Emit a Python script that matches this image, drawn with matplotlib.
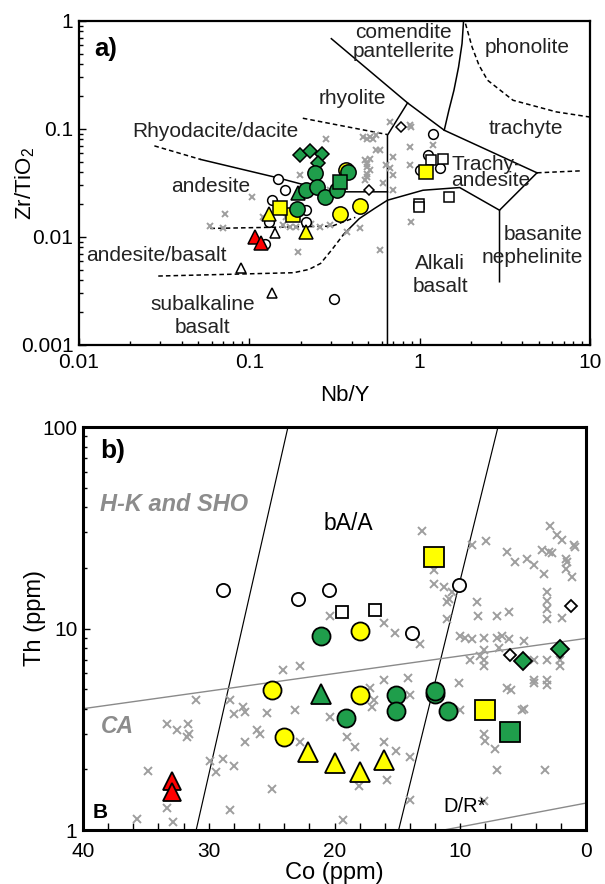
import numpy as np
import matplotlib
matplotlib.use('Agg')
import matplotlib.pyplot as plt
from matplotlib.ticker import FuncFormatter, MultipleLocator, NullFormatter

plt.rcParams['font.family'] = ['Liberation Sans', 'DejaVu Sans']
plt.rcParams['mathtext.fontset'] = 'custom'
plt.rcParams['mathtext.rm'] = 'Liberation Sans'
plt.rcParams['mathtext.it'] = 'Liberation Sans:italic'
plt.rcParams['mathtext.bf'] = 'Liberation Sans:bold'

GREEN = '#1f9e4b'
YELLOW = '#ffff00'
RED = '#ff0000'
GREY = '#9e9e9e'

# ---------------- panel a) Zr/TiO2 vs Nb/Y ----------------
a_gray_x = [0.283, 0.103, 0.0717, 0.0585, 0.0702, 0.1935, 0.583, 0.444, 0.372, 0.297,
            0.259, 0.1725, 0.165, 0.120, 0.158, 0.1885, 0.231, 0.198, 0.297, 0.509,
            0.493, 0.509, 0.493, 0.556, 0.509, 0.468, 0.556, 0.611, 0.668, 0.876,
            0.894, 0.533, 0.488, 0.583, 0.876, 0.696, 0.475, 0.488, 0.488, 0.475,
            0.637, 0.668, 0.696, 0.876, 1.198, 0.696, 0.894]
a_gray_y = [0.0815, 0.0235, 0.0165, 0.0126, 0.0120, 0.0073, 0.00756, 0.0120, 0.0112, 0.0129,
            0.0124, 0.0124, 0.0154, 0.0154, 0.0129, 0.0124, 0.0133, 0.0374, 0.0271, 0.0533,
            0.0479, 0.0416, 0.0361, 0.0636, 0.0845, 0.0845, 0.0876, 0.0313, 0.116, 0.109,
            0.105, 0.0815, 0.0815, 0.0636, 0.0683, 0.0552, 0.0514, 0.0446, 0.0387, 0.0336,
            0.0462, 0.0431, 0.0374, 0.0462, 0.0708, 0.0271, 0.0138]

a_open_circle_x = [0.147, 0.161, 0.135, 0.131, 0.216, 0.216, 0.123, 0.315, 1.198, 1.119, 0.998, 1.309]
a_open_circle_y = [0.0348, 0.0271, 0.0219, 0.0138, 0.0177, 0.0138, 0.0087, 0.00266, 0.0908, 0.0572, 0.0416, 0.0431]
a_open_tri_x = [0.141, 0.0888, 0.135]
a_open_tri_y = [0.0108, 0.00512, 0.0030]
a_open_diam_x = [0.772, 0.503]
a_open_diam_y = [0.1046, 0.0271]
a_open_sq_x = [1.173, 1.372, 0.993, 0.997, 1.484]
a_open_sq_y = [0.0514, 0.0525, 0.0204, 0.0188, 0.0235]

a_yel_circle_x = [0.368, 0.342, 0.449]
a_yel_circle_y = [0.0416, 0.0165, 0.0193]
a_yel_sq_x = [0.180, 0.1505, 1.085]
a_yel_sq_y = [0.0159, 0.0184, 0.0401]
a_yel_tri_x = [0.131, 0.216]
a_yel_tri_y = [0.0165, 0.0112]

a_grn_diam_x = [0.198, 0.228, 0.266, 0.253]
a_grn_diam_y = [0.0572, 0.0627, 0.0584, 0.0489]
a_grn_circle_x = [0.242, 0.215, 0.249, 0.279, 0.326, 0.382, 0.190]
a_grn_circle_y = [0.0393, 0.0275, 0.0291, 0.0235, 0.0275, 0.0398, 0.0181]
a_grn_tri_x = [0.1925]
a_grn_tri_y = [0.0253]
a_grn_sq_x = [0.342]
a_grn_sq_y = [0.0322]

a_red_tri_x = [0.1077, 0.1178]
a_red_tri_y = [0.01005, 0.00884]

# field boundaries (Winchester & Floyd)
a_solid_lines = [
    ([0.303, 0.849, 1.394, 4.885], [0.686, 0.1744, 0.0974, 0.0393]),
    ([1.810, 1.773, 1.692, 1.589, 1.484, 1.394], [1.0, 0.617, 0.375, 0.228, 0.149, 0.0974]),
    ([0.849, 0.647, 0.647], [0.1744, 0.0876, 0.001]),
    ([4.885, 2.943, 2.943], [0.0393, 0.0177, 0.00385]),
    ([0.358, 0.442, 0.544, 0.647, 1.046, 1.718, 2.943], [0.0106, 0.0148, 0.0184, 0.0219, 0.0271, 0.0287, 0.0177]),
    ([0.0519, 0.147, 0.224, 0.306, 0.647], [0.0522, 0.0353, 0.0296, 0.0262, 0.0262]),
]
a_dashed_lines = [
    ([0.0292, 0.182, 0.224, 0.262, 0.306, 0.358], [0.00435, 0.00467, 0.00501, 0.00569, 0.00767, 0.0106]),
    ([0.0277, 0.0519], [0.0698, 0.0522]),
    ([0.0591, 0.306, 0.419], [0.0120, 0.0126, 0.0152]),
    ([0.206, 0.647], [0.1258, 0.0888]),
    ([1.858, 2.031, 2.231, 2.503, 3.533, 6.345, 10.0], [0.945, 0.574, 0.389, 0.283, 0.1845, 0.144, 0.129]),
    ([4.885, 8.91], [0.0393, 0.0410]),
]
a_labels = [
    ("comendite\npantellerite", 0.805, 0.64, 'center', 1.0),
    ("phonolite", 4.29, 0.574, 'center', 1.2),
    ("rhyolite", 0.402, 0.191, 'center', 1.2),
    ("trachyte", 4.18, 0.101, 'center', 1.2),
    ("Rhyodacite/dacite", 0.0632, 0.094, 'center', 1.2),
    ("Trachy-\nandesite", 1.53, 0.0395, 'left', 0.8),
    ("andesite", 0.0591, 0.0291, 'center', 1.2),
    ("basanite\nnephelinite", 9.05, 0.0083, 'right', 1.25),
    ("andesite/basalt", 0.0284, 0.0068, 'center', 1.2),
    ("Alkali\nbasalt", 1.323, 0.00444, 'center', 1.25),
    ("subalkaline\nbasalt", 0.0532, 0.00185, 'center', 1.25),
]

# ---------------- panel b) Th vs Co ----------------
b_gray_co = [31.02, 33.35, 32.49, 31.63, 31.54, 31.69, 34.8, 33.29, 32.86, 35.72,
             28.31, 28.0, 27.26, 27.11, 25.38, 26.18, 25.91, 27.11, 29.91, 28.83,
             28.03, 29.42, 24.98, 28.31, 24.06, 22.74, 23.14, 22.74, 20.34, 19.02,
             18.37, 19.29, 18.09, 17.17, 16.89, 17.05, 16.09, 20.34, 16.09, 16.09, 15.85,
             13.05, 9.08, 7.94, 12.12, 12.12, 11.32, 10.92, 11.08, 11.08, 10.68,
             15.17, 13.2, 10.0, 9.6, 9.08, 8.15, 8.15, 8.4, 8.15, 7.08,
             6.68, 6.95, 6.15, 4.95, 8.68, 8.55, 7.08, 6.15, 9.2, 8.15,
             6.28, 5.63, 4.71, 4.15, 3.35, 2.83, 2.31, 1.91, 0.98, 0.86,
             3.51, 2.98, 2.71, 1.63, 1.51, 1.63, 1.11, 3.11, 3.11, 3.11,
             3.11, 1.91, 4.15, 3.11, 2.03, 2.03, 4.15, 4.15, 3.11, 3.11,
             10.12, 6.28, 5.11, 8.15, 8.0, 7.23, 14.12, 13.97, 10.0,
             7.08, 3.23, 8.15, 14.0, 4.92, 6.0, 15.08, 14.0]
b_gray_th = [4.44, 3.34, 3.14, 3.37, 3.00, 2.89, 1.96, 1.29, 1.10, 1.14,
             4.41, 3.78, 4.08, 3.86, 3.81, 3.12, 3.00, 2.72, 2.20, 2.25,
             2.08, 1.93, 1.59, 1.26, 6.24, 6.48, 3.93, 2.72, 3.64, 2.89,
             2.57, 1.12, 1.65, 5.05, 4.41, 4.08, 5.56, 11.56, 10.70, 2.72, 1.78,
             30.5, 25.96, 27.2, 19.44, 16.67, 16.03, 14.01, 13.48, 11.12, 15.13,
             9.53, 8.33, 9.17, 8.99, 8.82, 8.99, 7.86, 7.28, 7.00, 8.99,
             9.17, 8.01, 8.82, 8.65, 13.48, 11.56, 11.56, 12.01, 7.00, 6.48,
             24.03, 21.4, 22.25, 20.6, 18.7, 32.1, 29.1, 27.5, 25.96, 25.5,
             24.5, 24.0, 23.6, 22.25, 21.4, 19.8, 18.0, 15.13, 13.74, 12.48,
             11.12, 11.33, 7.00, 7.00, 7.00, 6.48, 5.56, 5.35, 5.56, 5.25,
             5.35, 5.05, 3.93, 3.00, 2.78, 2.52, 5.66, 4.67, 3.93,
             1.98, 1.98, 1.39, 1.41, 4.00, 4.95, 2.47, 2.29]

b_open_circle_co = [28.9, 22.9, 20.4, 13.85, 10.1]
b_open_circle_th = [15.6, 14.0, 15.6, 9.53, 16.5]
b_open_sq_co = [19.4, 16.8]
b_open_sq_th = [12.1, 12.4]
b_open_diam_co = [1.23, 6.06]
b_open_diam_th = [12.9, 7.42]

b_grn_circle_co = [21.1, 19.1, 15.1, 15.1, 12.0, 12.0, 11.0]
b_grn_circle_th = [9.17, 3.61, 4.67, 3.90, 4.73, 4.91, 3.90]
b_grn_tri_co = [21.1]
b_grn_tri_th = [4.73]
b_grn_diam_co = [5.02, 2.06]
b_grn_diam_th = [6.87, 7.92]
b_grn_sq_co = [6.06]
b_grn_sq_th = [3.06]

b_yel_circle_co = [18.0, 25.0, 18.0, 24.0]
b_yel_circle_th = [9.71, 4.95, 4.67, 2.89]
b_yel_tri_co = [22.1, 20.0, 18.0, 16.1]
b_yel_tri_th = [2.43, 2.14, 1.95, 2.22]
b_yel_sq_co = [12.1, 8.0]
b_yel_sq_th = [22.7, 3.96]

b_red_tri_co = [32.9, 32.9]
b_red_tri_th = [1.75, 1.55]

b_black_lines = [([23.7, 31.0], [100, 1]), ([7.0, 14.9], [100, 1])]
b_gray_lines = [([40, 0], [4.0, 8.93]), ([11.3, 0], [1.0, 1.36])]


def pts(ax, x, y, marker, face, size, z=4, lw=1.1):
    ax.plot(x, y, ls='none', marker=marker, ms=size, mfc=face, mec='k',
            mew=lw, zorder=z)


def style_axis(ax, spine_w, pad):
    for s in ax.spines.values():
        s.set_linewidth(spine_w)
    ax.tick_params(which='both', direction='in', top=False, right=False,
                   labelsize=15, width=1.0, pad=pad)
    ax.tick_params(which='major', length=5)
    ax.tick_params(which='minor', length=3)


fig = plt.figure(figsize=(6.05, 8.84), dpi=100)

# ---- a ----
ax = fig.add_axes([79 / 605, 1 - 345 / 884, 511 / 605, 324 / 884])
ax.set_xscale('log')
ax.set_yscale('log')
ax.set_xlim(0.01, 10)
ax.set_ylim(0.001, 1)

for xs, ys in a_solid_lines:
    ax.plot(xs, ys, color='k', lw=1.1, zorder=1)
for xs, ys in a_dashed_lines:
    ax.plot(xs, ys, color='k', lw=1.1, ls=(0, (3, 2)), zorder=1)

ax.plot(a_gray_x, a_gray_y, ls='none', marker='x', ms=5, mew=1.4, color=GREY, zorder=2)
pts(ax, a_open_circle_x, a_open_circle_y, 'o', 'white', 7)
pts(ax, a_open_tri_x, a_open_tri_y, '^', 'white', 7)
pts(ax, a_open_diam_x, a_open_diam_y, 'D', 'white', 5)
pts(ax, a_open_sq_x, a_open_sq_y, 's', 'white', 7)
pts(ax, a_yel_circle_x, a_yel_circle_y, 'o', YELLOW, 11, z=5)
pts(ax, a_yel_sq_x, a_yel_sq_y, 's', YELLOW, 10.5, z=5)
pts(ax, a_yel_tri_x, a_yel_tri_y, '^', YELLOW, 10.5, z=5)
pts(ax, a_grn_diam_x, a_grn_diam_y, 'D', GREEN, 7.3, z=6)
pts(ax, a_grn_tri_x, a_grn_tri_y, '^', GREEN, 10.5, z=6)
pts(ax, a_grn_circle_x, a_grn_circle_y, 'o', GREEN, 11, z=6)
pts(ax, a_grn_sq_x, a_grn_sq_y, 's', GREEN, 10.5, z=6)
pts(ax, a_red_tri_x, a_red_tri_y, '^', RED, 10.5, z=7)

for txt, x, y, ha, lsp in a_labels:
    ax.text(x, y, txt, ha=ha, va='center', fontsize=15, color='#222222',
            linespacing=lsp, zorder=3)
ax.text(0.03, 0.915, 'a)', transform=ax.transAxes, fontsize=18.5,
        fontweight='bold', va='center', ha='left')

fmt = FuncFormatter(lambda v, p: f'{v:g}')
ax.xaxis.set_major_formatter(fmt)
ax.yaxis.set_major_formatter(fmt)
ax.xaxis.set_minor_formatter(NullFormatter())
ax.yaxis.set_minor_formatter(NullFormatter())
style_axis(ax, 1.6, 4)
ax.tick_params(axis='x', pad=6)
ax.set_xlabel('Nb/Y', fontsize=16)
ax.set_ylabel('Zr/TiO$_2$', fontsize=16)
ax.xaxis.set_label_coords(0.52, -0.122)
ax.yaxis.set_label_coords(-0.082, 0.5)

# ---- b ----
bx = fig.add_axes([83 / 605, 1 - 830 / 884, 503 / 605, 403 / 884])
bx.set_yscale('log')
bx.set_xlim(40, 0)
bx.set_ylim(1, 100)

for xs, ys in b_black_lines:
    bx.plot(xs, ys, color='k', lw=0.85, zorder=1)
for xs, ys in b_gray_lines:
    bx.plot(xs, ys, color='#8a8a8a', lw=1.0, zorder=1)

bx.plot(b_gray_co, b_gray_th, ls='none', marker='x', ms=6, mew=1.4, color=GREY, zorder=2)
pts(bx, b_open_circle_co, b_open_circle_th, 'o', 'white', 9.5, lw=1.3)
pts(bx, b_open_sq_co, b_open_sq_th, 's', 'white', 9, lw=1.3)
pts(bx, b_open_diam_co, b_open_diam_th, 'D', 'white', 6.5, lw=1.3)
pts(bx, b_grn_circle_co, b_grn_circle_th, 'o', GREEN, 13, z=5, lw=1.3)
pts(bx, b_grn_tri_co, b_grn_tri_th, '^', GREEN, 14, z=5, lw=1.3)
pts(bx, b_grn_diam_co, b_grn_diam_th, 'D', GREEN, 9.3, z=5, lw=1.3)
pts(bx, b_grn_sq_co, b_grn_sq_th, 's', GREEN, 14, z=5, lw=1.3)
pts(bx, b_yel_circle_co, b_yel_circle_th, 'o', YELLOW, 13, z=5, lw=1.3)
pts(bx, b_yel_tri_co, b_yel_tri_th, '^', YELLOW, 14, z=5, lw=1.3)
pts(bx, b_yel_sq_co, b_yel_sq_th, 's', YELLOW, 14, z=5, lw=1.3)
pts(bx, b_red_tri_co, b_red_tri_th, '^', RED, 13, z=6, lw=1.3)

bx.text(0.035, 0.941, 'b)', transform=bx.transAxes, fontsize=19, fontweight='bold', va='center')
bx.text(0.033, 0.8075, 'H-K and SHO', transform=bx.transAxes, fontsize=17,
        fontweight='bold', fontstyle='italic', color='#8c8c8c', va='center')
bx.text(0.527, 0.7615, 'bA/A', transform=bx.transAxes, fontsize=16.5, ha='center', va='center')
bx.text(0.036, 0.257, 'CA', transform=bx.transAxes, fontsize=16.5,
        fontweight='bold', fontstyle='italic', color='#8c8c8c', va='center')
bx.text(0.019, 0.0444, 'B', transform=bx.transAxes, fontsize=15, fontweight='bold', va='center')
bx.text(0.758, 0.0586, 'D/R*', transform=bx.transAxes, fontsize=14.5, ha='center', va='center')

bx.set_xticks([40, 30, 20, 10, 0])
bx.xaxis.set_minor_locator(MultipleLocator(2))
bx.yaxis.set_major_formatter(fmt)
bx.yaxis.set_minor_formatter(NullFormatter())
style_axis(bx, 2.2, 4)
bx.tick_params(axis='x', which='both', length=5, pad=8.5)
bx.set_xlabel('Co (ppm)', fontsize=17)
bx.set_ylabel('Th (ppm)', fontsize=17)
bx.xaxis.set_label_coords(0.5, -0.08)
bx.yaxis.set_label_coords(-0.074, 0.527)

fig.savefig('out.png', dpi=100, facecolor='white')
